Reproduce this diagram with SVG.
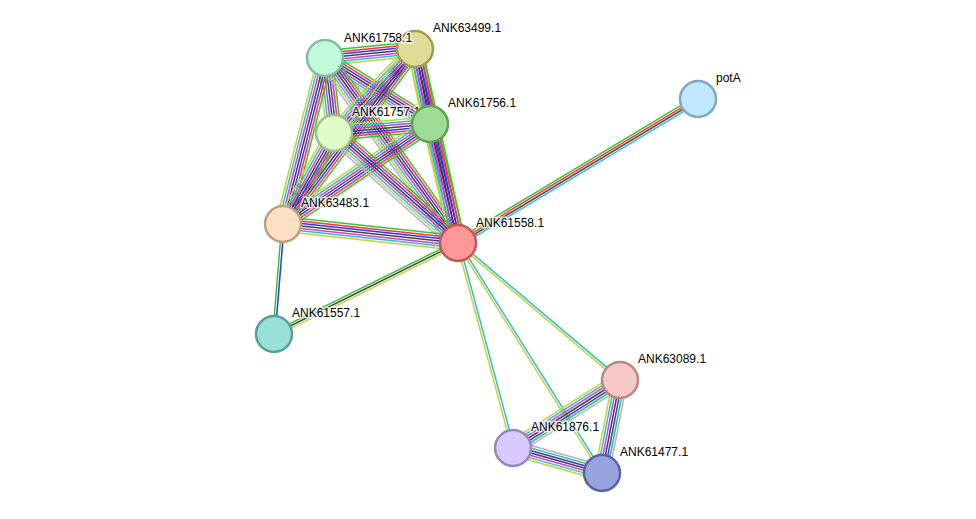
<svg xmlns="http://www.w3.org/2000/svg" xmlns:xlink="http://www.w3.org/1999/xlink" width="976" height="519" viewBox="0 0 976 519">
<style>
line{stroke-width:1.5;fill:none}
.g{stroke:#33c633}.r{stroke:#ff3333}.b{stroke:#3333ff}.k{stroke:#444444}
.m{stroke:#d23dd2}.c{stroke:#35b8dc}.y{stroke:#bcd637}.h{stroke:#aaaaff}
.lbl{font-family:"Liberation Sans",Arial,sans-serif;font-size:12px;fill:#000;stroke:#fff;stroke-width:3;stroke-opacity:0.75;paint-order:stroke;stroke-linejoin:round}
.n{stroke-width:2.5}
</style>
<defs>
<g id="k7">
<line class="g" x1="0" y1="-7.2" x2="1" y2="-7.2"/><line class="r" x1="0" y1="-4.8" x2="1" y2="-4.8"/>
<line class="b" x1="0" y1="-2.4" x2="1" y2="-2.4"/><line class="k" x1="0" y1="0" x2="1" y2="0"/>
<line class="m" x1="0" y1="2.4" x2="1" y2="2.4"/><line class="c" x1="0" y1="4.8" x2="1" y2="4.8"/>
<line class="y" x1="0" y1="7.2" x2="1" y2="7.2"/>
</g>
<g id="k8">
<line class="g" x1="0" y1="-8.4" x2="1" y2="-8.4"/><line class="r" x1="0" y1="-6" x2="1" y2="-6"/>
<line class="b" x1="0" y1="-3.6" x2="1" y2="-3.6"/><line class="k" x1="0" y1="-1.2" x2="1" y2="-1.2"/>
<line class="m" x1="0" y1="1.2" x2="1" y2="1.2"/><line class="c" x1="0" y1="3.6" x2="1" y2="3.6"/>
<line class="y" x1="0" y1="6" x2="1" y2="6"/><line class="h" x1="0" y1="8.4" x2="1" y2="8.4"/>
</g>
<g id="kH">
<line class="h" x1="0" y1="-7.2" x2="1" y2="-7.2"/><line class="g" x1="0" y1="-4.8" x2="1" y2="-4.8"/>
<line class="b" x1="0" y1="-2.4" x2="1" y2="-2.4"/><line class="k" x1="0" y1="0" x2="1" y2="0"/>
<line class="m" x1="0" y1="2.4" x2="1" y2="2.4"/><line class="c" x1="0" y1="4.8" x2="1" y2="4.8"/>
<line class="y" x1="0" y1="7.2" x2="1" y2="7.2"/>
</g>
<g id="kP">
<line class="g" x1="0" y1="-3.3" x2="1" y2="-3.3"/><line class="r" x1="0" y1="-1.1" x2="1" y2="-1.1"/>
<line class="k" x1="0" y1="1.1" x2="1" y2="1.1"/><line class="c" x1="0" y1="3.3" x2="1" y2="3.3"/>
</g>
<g id="kFG">
<line class="g" x1="0" y1="2.3" x2="1" y2="2.3"/><line class="k" x1="0" y1="0" x2="1" y2="0"/>
<line class="y" x1="0" y1="-2.3" x2="1" y2="-2.3"/>
</g>
<g id="kGB">
<line class="g" x1="0" y1="1.2" x2="1" y2="1.2"/><line class="b" x1="0" y1="-1.2" x2="1" y2="-1.2"/>
</g>
<g id="kCY">
<line class="c" x1="0" y1="-1.2" x2="1" y2="-1.2"/><line class="y" x1="0" y1="1.2" x2="1" y2="1.2"/>
</g>
</defs>
<rect width="976" height="519" fill="#ffffff"/>
<g id="connectors">
<use id="e-A-B" xlink:href="#k7" transform="matrix(90,-9,0.0995,0.995,325,58)"/>
<use id="e-A-C" xlink:href="#k7" transform="matrix(105,66,-0.532,0.847,325,58)"/>
<use id="e-A-D" xlink:href="#k7" transform="matrix(9,75,-0.993,0.119,325,58)"/>
<use id="e-A-E" xlink:href="#k7" transform="matrix(-42,166,-0.970,-0.245,325,58)"/>
<use id="e-A-F" xlink:href="#k8" transform="matrix(133,185,-0.812,0.584,325,58)"/>
<use id="e-B-C" xlink:href="#k7" transform="matrix(15,75,-0.981,0.196,415,49)"/>
<use id="e-B-D" xlink:href="#k7" transform="matrix(-81,84,-0.720,-0.694,415,49)"/>
<use id="e-B-E" xlink:href="#k7" transform="matrix(-132,175,-0.798,-0.602,415,49)"/>
<use id="e-B-F" xlink:href="#k7" transform="matrix(43,194,-0.976,0.216,415,49)"/>
<use id="e-C-D" xlink:href="#k7" transform="matrix(-96,9,-0.0933,-0.996,430,124)"/>
<use id="e-C-E" xlink:href="#k7" transform="matrix(-147,100,-0.562,-0.827,430,124)"/>
<use id="e-C-F" xlink:href="#k7" transform="matrix(28,119,-0.973,0.229,430,124)"/>
<use id="e-D-E" xlink:href="#k7" transform="matrix(-51,91,-0.872,-0.489,334,133)"/>
<use id="e-D-F" xlink:href="#k8" transform="matrix(124,110,-0.663,0.748,334,133)"/>
<use id="e-E-F" xlink:href="#k7" transform="matrix(175,19,-0.108,0.994,283,224)"/>
<use id="e-E-G" xlink:href="#kGB" transform="matrix(-9,110,-0.997,-0.0815,283,224)"/>
<use id="e-F-G" xlink:href="#kFG" transform="matrix(-184,91,-0.443,-0.896,458,243)"/>
<use id="e-F-P" xlink:href="#kP" transform="matrix(240,-144,0.514,0.857,458,243)"/>
<use id="e-F-H" xlink:href="#kCY" transform="matrix(162,137,-0.646,0.763,458,243)"/>
<use id="e-F-I" xlink:href="#kCY" transform="matrix(55,205,-0.966,0.259,458,243)"/>
<use id="e-F-J" xlink:href="#kCY" transform="matrix(144,230,-0.847,0.531,458,243)"/>
<use id="e-H-I" xlink:href="#kH" transform="matrix(-107,68,-0.536,-0.844,620,380)"/>
<use id="e-H-J" xlink:href="#kH" transform="matrix(-18,93,-0.982,-0.190,620,380)"/>
<use id="e-I-J" xlink:href="#kH" transform="matrix(89,25,-0.271,0.963,513,448)"/>
</g>
<g id="node-ANK63499.1"><circle class="n" cx="415" cy="49" r="18" fill="#dfdc98" stroke="#a09c58"/><text class="lbl" x="433" y="32">ANK63499.1</text></g>
<g id="node-ANK61758.1"><circle class="n" cx="325" cy="58" r="18" fill="#c1fbdb" stroke="#80c0a0"/><text class="lbl" x="344" y="42">ANK61758.1</text></g>
<g id="node-ANK61757.1"><circle class="n" cx="334" cy="133" r="18" fill="#e0fdc8" stroke="#a0bc88"/><text class="lbl" x="352" y="116">ANK61757.1</text></g>
<g id="node-ANK61756.1"><circle class="n" cx="430" cy="124" r="18" fill="#9fdc96" stroke="#60a058"/><text class="lbl" x="448" y="107">ANK61756.1</text></g>
<g id="node-ANK63483.1"><circle class="n" cx="283" cy="224" r="18" fill="#fde0c4" stroke="#bca080"/><text class="lbl" x="301" y="207">ANK63483.1</text></g>
<g id="node-ANK61558.1"><circle class="n" cx="458" cy="243" r="18" fill="#fe9898" stroke="#c05858"/><text class="lbl" x="476" y="227">ANK61558.1</text></g>
<g id="node-ANK61557.1"><circle class="n" cx="274" cy="334" r="18" fill="#98e0d8" stroke="#58a098"/><text class="lbl" x="292" y="317">ANK61557.1</text></g>
<g id="node-potA"><circle class="n" cx="698" cy="99" r="18" fill="#c0e8fe" stroke="#80a8c0"/><text class="lbl" x="716" y="82">potA</text></g>
<g id="node-ANK63089.1"><circle class="n" cx="620" cy="380" r="18" fill="#f8c8c8" stroke="#b88888"/><text class="lbl" x="638" y="363">ANK63089.1</text></g>
<g id="node-ANK61876.1"><circle class="n" cx="513" cy="448" r="18" fill="#d8c8fe" stroke="#9888c0"/><text class="lbl" x="531" y="431">ANK61876.1</text></g>
<g id="node-ANK61477.1"><circle class="n" cx="602" cy="473" r="18" fill="#98a4e0" stroke="#5864a0"/><text class="lbl" x="620" y="456">ANK61477.1</text></g>
</svg>
